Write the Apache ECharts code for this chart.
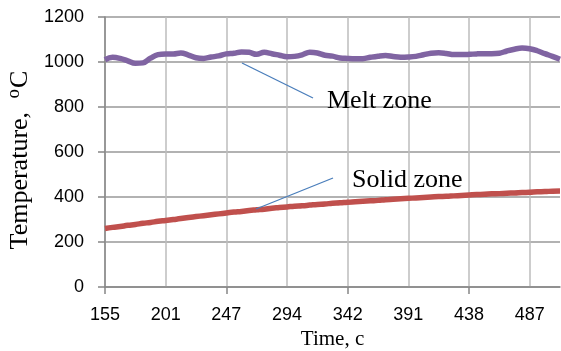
<!DOCTYPE html>
<html>
<head>
<meta charset="utf-8">
<script src="https://cdn.jsdelivr.net/npm/echarts@6/dist/echarts.min.js"></script>
<style>html,body{margin:0;padding:0;background:#fff}#c{width:561px;height:351px}</style>
</head>
<body>
<div id="c"></div>
<script>
// Time categories (s); every 8th is a labelled tick
var times = [155,161,167,172,178,184,190,195,201,
  207,213,218,224,230,236,241,247,
  253,259,265,271,276,282,288,294,
  300,306,312,318,324,330,336,342,
  348,354,360,366,373,379,385,391,
  397,403,409,415,420,426,432,438,
  444,450,456,463,469,475,481,487,
  493,499,505,511];
var meltZone = [1010,1021,1016,1005,994,996,1017,1033,1036,
  1036,1040,1031,1019,1016,1022,1027,1036,
  1039,1045,1043,1034,1043,1037,1030,1023,
  1025,1032,1043,1040,1030,1026,1018,1016,
  1015,1015,1021,1026,1029,1024,1021,1022,
  1025,1032,1039,1041,1038,1033,1033,1034,
  1036,1037,1037,1039,1049,1057,1062,1059,
  1050,1037,1025,1012];
var solidZone = [260,265,269,274,278,283,287,292,296,
  300,304,309,313,317,321,325,329,
  333,336,340,343,346,350,353,356,
  359,361,364,367,369,372,374,377,
  379,381,383,385,388,390,392,394,
  396,398,400,402,403,405,407,409,
  411,412,414,415,417,418,420,421,
  423,424,426,427];
var yTicks = [0,200,400,600,800,1000,1200];

var chart = echarts.init(document.getElementById('c'), null, {renderer:'canvas'});
chart.setOption({
  animation:false,
  backgroundColor:'#ffffff',
  grid:{left:105, right:1, top:17, bottom:64, containLabel:false, outerBoundsMode:'none'},
  xAxis:{
    type:'category', data:times, boundaryGap:false,
    name:'Time, c', nameLocation:'middle', nameGap:40,
    nameTextStyle:{fontFamily:'Liberation Serif', fontSize:21, color:'#000'},
    axisLine:{lineStyle:{color:'#868686', width:1.5}},
    axisTick:{show:true, interval:15, length:7, lineStyle:{color:'#868686', width:1.5}},
    axisLabel:{interval:7, margin:19, fontFamily:'Liberation Sans', fontSize:18, color:'#000'},
    splitLine:{show:true, interval:7, lineStyle:{color:'#BDBDBD', width:1.5}}
  },
  yAxis:{
    type:'value', min:yTicks[0], max:yTicks[yTicks.length-1], interval:200,
    name:'Temperature, {sup|o}C', nameLocation:'middle', nameGap:70, nameRotate:90,
    nameTextStyle:{fontFamily:'Liberation Serif', fontSize:26, color:'#000', padding:[0,16,0,0],
      rich:{sup:{fontFamily:'Liberation Serif', fontSize:19, color:'#000', verticalAlign:'top', padding:[0,1,11,7]}}},
    axisLine:{show:true, lineStyle:{color:'#868686', width:1.5}},
    axisTick:{show:true, length:7, lineStyle:{color:'#868686', width:1.5}},
    axisLabel:{margin:21, fontFamily:'Liberation Sans', fontSize:18, color:'#000',
      formatter:function(v){return String(v);}},
    splitLine:{show:true, lineStyle:{color:'#989898', width:1.5}}
  },
  series:[
    {name:'Melt zone', type:'line', data:meltZone, smooth:0.4, showSymbol:false,
      lineStyle:{color:'#8064A2', width:5.5}, itemStyle:{color:'#8064A2'}},
    {name:'Solid zone', type:'line', data:solidZone, smooth:true, showSymbol:false,
      lineStyle:{color:'#C0504D', width:5.5}, itemStyle:{color:'#C0504D'}}
  ],
  graphic:[
    {type:'line', shape:{x1:242, y1:63, x2:313, y2:98}, style:{stroke:'#4A7EBB', lineWidth:1.3}, z:100},
    {type:'line', shape:{x1:256, y1:209, x2:333, y2:178}, style:{stroke:'#4A7EBB', lineWidth:1.3}, z:100},
    {type:'text', x:327, y:101, style:{text:'Melt zone', font:'26px "Liberation Serif"', fill:'#000', verticalAlign:'middle', align:'left'}, z:100},
    {type:'text', x:352, y:180, style:{text:'Solid zone', font:'26px "Liberation Serif"', fill:'#000', verticalAlign:'middle', align:'left'}, z:100}
  ]
});
</script>
</body>
</html>
